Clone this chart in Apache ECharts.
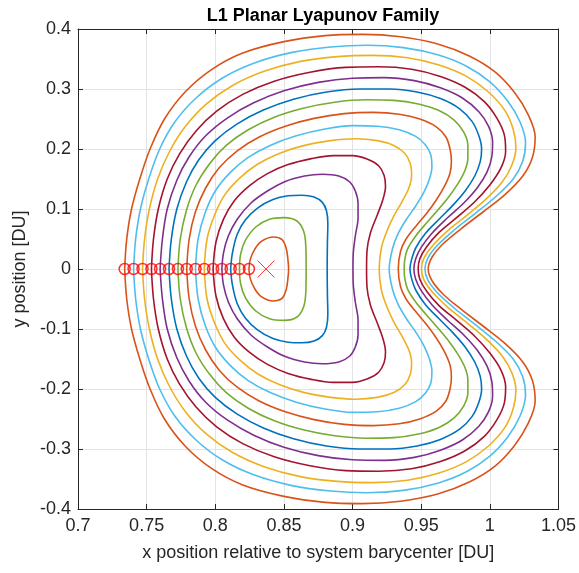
<!DOCTYPE html>
<html><head><meta charset="utf-8">
<script src="https://cdn.jsdelivr.net/npm/echarts@6/dist/echarts.min.js"></script>
<style>html,body{margin:0;padding:0;background:#fff}#c{width:579px;height:573px}</style>
</head><body><div id="c"></div>
<script>
// Upper halves of each orbit (y >= 0); lower halves are the mirror image.
const orbit1 = [[0.8245,0],[0.8255,0.016],[0.8285,0.032],[0.8335,0.046],[0.8424,0.0533],[0.8486,0.049],[0.8516,0.035],[0.8529,0.016],[0.8534,0]];
const orbit2 = [[0.8176,0],[0.8185,0.025],[0.822,0.048],[0.8295,0.07],[0.8395,0.083],[0.85,0.0856],[0.8595,0.08],[0.8645,0.062],[0.866,0.035],[0.8662,0]];
const orbit3 = [[0.8112,0],[0.8125,0.027],[0.816,0.058],[0.822,0.082],[0.831,0.102],[0.842,0.116],[0.853,0.122],[0.863,0.123],[0.872,0.12],[0.878,0.111],[0.881,0.097],[0.882,0.075],[0.8817,0.045],[0.8815,0]];
const orbit4 = [[0.8048,0],[0.806,0.027],[0.8095,0.055],[0.816,0.083],[0.826,0.11],[0.838,0.13],[0.851,0.146],[0.865,0.155],[0.878,0.158],[0.89,0.155],[0.898,0.145],[0.902,0.13],[0.904,0.11],[0.904,0.085],[0.902,0.055],[0.9005,0.025],[0.9003,0]];
const orbit5 = [[0.7984,0],[0.8005,0.045],[0.806,0.083],[0.814,0.114],[0.825,0.139],[0.838,0.159],[0.853,0.174],[0.87,0.184],[0.886,0.189],[0.9,0.189],[0.911,0.183],[0.919,0.172],[0.923,0.156],[0.924,0.138],[0.922,0.115],[0.918,0.09],[0.913,0.06],[0.9105,0.03],[0.9102,0]];
const orbit6 = [[0.792,0],[0.794,0.05],[0.7995,0.09],[0.807,0.124],[0.818,0.152],[0.831,0.175],[0.847,0.193],[0.865,0.206],[0.884,0.214],[0.902,0.217],[0.918,0.214],[0.93,0.206],[0.938,0.193],[0.942,0.176],[0.943,0.156],[0.941,0.135],[0.936,0.112],[0.93,0.088],[0.925,0.063],[0.921,0.035],[0.9194,0]];
const orbit7 = [[0.7856,0],[0.7875,0.05],[0.7925,0.093],[0.8,0.13],[0.811,0.161],[0.824,0.186],[0.84,0.206],[0.859,0.222],[0.879,0.233],[0.9,0.239],[0.918,0.238],[0.934,0.232],[0.946,0.221],[0.953,0.207],[0.957,0.19],[0.9578,0.17],[0.956,0.15],[0.952,0.128],[0.946,0.105],[0.939,0.082],[0.933,0.058],[0.929,0.033],[0.9267,0]];
const orbit8 = [[0.7792,0],[0.781,0.05],[0.7855,0.095],[0.793,0.135],[0.803,0.169],[0.816,0.197],[0.832,0.22],[0.851,0.238],[0.872,0.251],[0.894,0.259],[0.915,0.261],[0.934,0.258],[0.949,0.25],[0.961,0.237],[0.968,0.22],[0.971,0.2],[0.972,0.18],[0.971,0.16],[0.967,0.138],[0.961,0.115],[0.954,0.093],[0.946,0.071],[0.939,0.05],[0.935,0.03],[0.9333,0]];
const orbit9 = [[0.7728,0],[0.7745,0.05],[0.779,0.098],[0.786,0.14],[0.796,0.176],[0.808,0.206],[0.824,0.232],[0.843,0.253],[0.864,0.268],[0.887,0.278],[0.91,0.282],[0.93,0.281],[0.948,0.275],[0.963,0.264],[0.974,0.248],[0.981,0.228],[0.984,0.206],[0.984,0.185],[0.982,0.165],[0.977,0.143],[0.97,0.12],[0.962,0.098],[0.954,0.077],[0.946,0.055],[0.94,0.033],[0.938,0.015],[0.9376,0]];
const orbit10 = [[0.7663,0],[0.768,0.05],[0.772,0.1],[0.779,0.145],[0.788,0.182],[0.8,0.214],[0.816,0.242],[0.835,0.265],[0.857,0.283],[0.881,0.295],[0.905,0.3],[0.927,0.3],[0.947,0.295],[0.964,0.284],[0.978,0.267],[0.987,0.246],[0.992,0.222],[0.994,0.2],[0.993,0.179],[0.989,0.155],[0.982,0.13],[0.973,0.106],[0.963,0.083],[0.953,0.059],[0.946,0.035],[0.943,0.016],[0.9418,0]];
const orbit11 = [[0.7598,0],[0.7615,0.05],[0.765,0.1],[0.772,0.148],[0.781,0.187],[0.793,0.222],[0.809,0.252],[0.828,0.277],[0.85,0.297],[0.875,0.311],[0.9,0.318],[0.923,0.319],[0.945,0.314],[0.964,0.302],[0.98,0.285],[0.992,0.262],[0.999,0.238],[1.002,0.212],[1.0015,0.188],[0.998,0.162],[0.991,0.136],[0.981,0.11],[0.969,0.085],[0.958,0.06],[0.95,0.036],[0.946,0.017],[0.9447,0]];
const orbit12 = [[0.7535,0],[0.755,0.05],[0.7585,0.1],[0.765,0.15],[0.774,0.192],[0.786,0.23],[0.801,0.263],[0.82,0.291],[0.843,0.313],[0.869,0.328],[0.895,0.336],[0.919,0.337],[0.943,0.333],[0.964,0.321],[0.982,0.303],[0.996,0.279],[1.005,0.252],[1.0105,0.224],[1.0115,0.196],[1.008,0.168],[1.0,0.14],[0.989,0.112],[0.976,0.086],[0.963,0.061],[0.954,0.037],[0.949,0.017],[0.9478,0]];
const orbit13 = [[0.747,0],[0.7485,0.05],[0.752,0.1],[0.758,0.15],[0.7665,0.195],[0.778,0.237],[0.793,0.274],[0.812,0.305],[0.835,0.329],[0.862,0.346],[0.889,0.354],[0.914,0.356],[0.94,0.352],[0.963,0.34],[0.983,0.321],[0.999,0.295],[1.011,0.264],[1.017,0.233],[1.019,0.202],[1.016,0.173],[1.009,0.145],[0.997,0.116],[0.983,0.089],[0.969,0.063],[0.958,0.038],[0.952,0.018],[0.9502,0]];
const orbit14 = [[0.7405,0],[0.742,0.05],[0.7455,0.1],[0.7515,0.15],[0.7595,0.2],[0.7705,0.245],[0.786,0.285],[0.805,0.318],[0.828,0.343],[0.856,0.361],[0.884,0.37],[0.91,0.373],[0.937,0.369],[0.962,0.357],[0.983,0.338],[1.0,0.312],[1.013,0.28],[1.022,0.245],[1.026,0.21],[1.024,0.18],[1.017,0.15],[1.004,0.12],[0.989,0.092],[0.974,0.065],[0.962,0.04],[0.955,0.019],[0.9527,0]];
const orbit15 = [[0.734,0],[0.7355,0.05],[0.739,0.1],[0.745,0.15],[0.7525,0.2],[0.763,0.25],[0.778,0.295],[0.797,0.332],[0.82,0.36],[0.85,0.379],[0.88,0.389],[0.907,0.391],[0.935,0.387],[0.962,0.375],[0.985,0.355],[1.004,0.328],[1.018,0.294],[1.028,0.257],[1.033,0.22],[1.031,0.186],[1.024,0.155],[1.011,0.124],[0.995,0.095],[0.979,0.067],[0.966,0.042],[0.958,0.02],[0.9551,0]];

const orbits = [orbit1,orbit2,orbit3,orbit4,orbit5,orbit6,orbit7,orbit8,orbit9,orbit10,orbit11,orbit12,orbit13,orbit14,orbit15];
const orbitColors = ['#D95319','#77AC30','#0072BD','#7E2F8E','#A2142F','#EDB120','#4DBEEE',
                     '#D95319','#77AC30','#0072BD','#7E2F8E','#A2142F','#EDB120','#4DBEEE','#D95319'];
// Initial conditions (red circles) and L1 point (red x)
const initialX = [0.8245,0.8176,0.8112,0.8048,0.7984,0.792,0.7856,0.7792,0.7728,0.7663,0.7598,0.7535,0.747,0.7405,0.734];
const initialY = [0,0,0,0,0,0,0,0,0,0,0,0,0,0,0];
const L1point = [0.8369, 0];

const xTickLabels = ['0.7','0.75','0.8','0.85','0.9','0.95','1','1.05'];
const yTickLabels = ['-0.4','-0.3','-0.2','-0.1','0','0.1','0.2','0.3','0.4'];

function closeOrbit(upper){
  const lower = upper.slice(0,-1).reverse().map(p=>[p[0],-p[1]]);
  return upper.concat(lower);
}

const FONT = '"Liberation Sans", Arial, Helvetica, sans-serif';
const chart = echarts.init(document.getElementById('c'), null, {renderer:'canvas'});

const series = orbits.map((o,i)=>({
  type:'line', data: closeOrbit(o), showSymbol:false, smooth:0.35,
  lineStyle:{color:orbitColors[i], width:1.6}, z:2, silent:true
}));
series.push({
  type:'scatter', data: initialX.map((x,i)=>[x, initialY[i]]), symbol:'circle', symbolSize:11,
  itemStyle:{color:'rgba(0,0,0,0)', borderColor:'#FF0000', borderWidth:1.5}, z:5, silent:true
});
series.push({
  type:'scatter', data:[L1point], symbol:'path://M0,0L10,10M10,0L0,10', symbolSize:17,
  itemStyle:{color:'rgba(0,0,0,0)', borderColor:'#FF0000', borderWidth:1}, z:5, silent:true
});

const xLab = v => { const i = Math.round((v-0.7)/0.05); return xTickLabels[i] !== undefined ? xTickLabels[i] : ''; };
const yLab = v => { const i = Math.round((v+0.4)/0.1); return yTickLabels[i] !== undefined ? yTickLabels[i] : ''; };

chart.setOption({
  animation:false,
  backgroundColor:'#fff',
  title:{text:'L1 Planar Lyapunov Family', left:318, textAlign:'center', top:2,
    textStyle:{fontFamily:FONT, fontSize:18, fontWeight:'bold', color:'#000'}},
  grid:{left:78, right:20, top:29, bottom:64, show:false},
  xAxis:[{
    type:'value', min:0.7, max:1.05, interval:0.05, position:'bottom',
    name:'x position relative to system barycenter [DU]', nameLocation:'middle', nameGap:35,
    nameTextStyle:{fontFamily:FONT, fontSize:18, color:'#262626'},
    axisLine:{show:true, onZero:false, lineStyle:{color:'#262626', width:1}},
    axisTick:{show:true, inside:true, length:5, lineStyle:{color:'#262626'}},
    axisLabel:{formatter:xLab, fontFamily:FONT, fontSize:18, color:'#262626', margin:8},
    splitLine:{show:true, lineStyle:{color:'#e3e3e3', width:1}}
  },{
    type:'value', min:0.7, max:1.05, interval:0.05, position:'top',
    axisLine:{show:true, onZero:false, lineStyle:{color:'#262626', width:1}},
    axisTick:{show:true, inside:true, length:5, lineStyle:{color:'#262626'}},
    axisLabel:{show:false}, splitLine:{show:false}
  }],
  yAxis:[{
    type:'value', min:-0.4, max:0.4, interval:0.1, position:'left',
    name:'y position [DU]', nameLocation:'middle', nameGap:44, nameRotate:90,
    nameTextStyle:{fontFamily:FONT, fontSize:18, color:'#262626'},
    axisLine:{show:true, onZero:false, lineStyle:{color:'#262626', width:1}},
    axisTick:{show:true, inside:true, length:5, lineStyle:{color:'#262626'}},
    axisLabel:{formatter:yLab, fontFamily:FONT, fontSize:18, color:'#262626', margin:7},
    splitLine:{show:true, lineStyle:{color:'#e3e3e3', width:1}}
  },{
    type:'value', min:-0.4, max:0.4, interval:0.1, position:'right',
    axisLine:{show:true, onZero:false, lineStyle:{color:'#262626', width:1}},
    axisTick:{show:true, inside:true, length:5, lineStyle:{color:'#262626'}},
    axisLabel:{show:false}, splitLine:{show:false}
  }],
  series: series
});
</script></body></html>
